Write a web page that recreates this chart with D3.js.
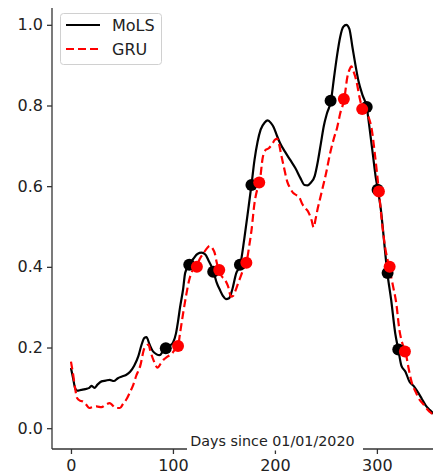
<!DOCTYPE html>
<html><head><meta charset="utf-8">
<script src="https://cdn.jsdelivr.net/npm/d3@7"></script>
<style>html,body{margin:0;padding:0;background:#fff;}svg{display:block;font-family:"DejaVu Sans",sans-serif;}</style>
</head><body>
<svg id="chart" width="433" height="474"></svg>
<script>
// ---- data ----
const molsDays = [0,2,4,6,10,14,18,20,23,26,30,34,38,42,46,50,54,58,62,66,69,72,74,77,80,84,87,90,93,97,100,103,105,107,110,112,116,120,124,128,132,135,138,140,143,146,149,152,155,158,162,166,170,174,177,180,183,186,190,193,196,199,202,205,210,215,220,225,229,232,235,239,242,245,248,251,255,258,261,264,267,270,273,276,279,282,286,290,293,296,299,301,304,307,310,314,318,321,324,328,332,336,340,344,348,352,356];
const molsValues = [0.149,0.125,0.100,0.093,0.095,0.097,0.100,0.105,0.100,0.108,0.116,0.118,0.120,0.117,0.124,0.128,0.132,0.140,0.155,0.178,0.205,0.224,0.226,0.208,0.192,0.183,0.181,0.190,0.198,0.205,0.212,0.235,0.265,0.300,0.345,0.385,0.405,0.420,0.432,0.435,0.430,0.415,0.400,0.386,0.360,0.343,0.328,0.320,0.322,0.342,0.384,0.405,0.470,0.545,0.603,0.665,0.710,0.740,0.758,0.763,0.757,0.745,0.725,0.707,0.685,0.665,0.645,0.620,0.603,0.602,0.608,0.625,0.660,0.705,0.750,0.780,0.812,0.870,0.925,0.970,0.995,1.000,0.990,0.945,0.900,0.860,0.825,0.796,0.740,0.680,0.620,0.591,0.540,0.465,0.390,0.318,0.235,0.195,0.155,0.140,0.115,0.105,0.090,0.073,0.056,0.045,0.035];

const gruDays = [0,2,4,6,9,12,15,18,21,25,30,34,38,41,44,48,51,55,58,61,64,68,72,76,78,81,85,88,91,95,99,102,105,107,110,113,116,119,123,126,130,134,136,139,141,143,145,148,151,154,157,159,161,164,167,170,172,175,177,180,183,185,188,191,194,197,200,202,204,206,209,212,215,218,221,224,227,230,233,236,238,240,242,244,247,250,254,258,261,264,268,271,273,275,277,280,283,286,289,292,295,298,302,305,308,312,316,319,322,325,328,331,334,338,342,346,350,354,357];
const gruValues = [0.165,0.135,0.100,0.075,0.068,0.066,0.058,0.050,0.052,0.054,0.052,0.058,0.062,0.056,0.050,0.050,0.060,0.074,0.090,0.107,0.130,0.155,0.198,0.207,0.190,0.168,0.150,0.160,0.170,0.178,0.185,0.195,0.204,0.236,0.285,0.330,0.368,0.390,0.400,0.418,0.434,0.448,0.452,0.445,0.434,0.410,0.392,0.376,0.368,0.352,0.326,0.328,0.339,0.360,0.380,0.400,0.410,0.455,0.490,0.558,0.595,0.609,0.670,0.690,0.694,0.703,0.715,0.718,0.705,0.680,0.645,0.612,0.595,0.583,0.578,0.572,0.555,0.545,0.535,0.515,0.498,0.520,0.545,0.566,0.598,0.630,0.680,0.720,0.745,0.780,0.816,0.870,0.888,0.897,0.885,0.860,0.820,0.791,0.780,0.770,0.740,0.680,0.587,0.510,0.450,0.400,0.350,0.310,0.245,0.210,0.190,0.150,0.115,0.090,0.070,0.058,0.045,0.036,0.030];

const molsMarkerDays = [93,116,139.5,165.7,177,254.6,290,300.7,310.5,321];
const molsMarkerValues = [0.198,0.405,0.388,0.405,0.603,0.812,0.796,0.591,0.385,0.195];
const gruMarkerDays = [105,123.5,145.4,172,184.6,267.6,285.6,302,312.5,327.5];
const gruMarkerValues = [0.204,0.400,0.392,0.410,0.609,0.816,0.791,0.587,0.400,0.190];

const xTicks = [0,100,200,300];
const yTicks = [0.0,0.2,0.4,0.6,0.8,1.0];
const seriesNames = ["MoLS","GRU"];
const xLabel = "Days since 01/01/2020";

// ---- drawing ----
const svg = d3.select("#chart");
const x = d3.scaleLinear().domain([-18.6, 376.6]).range([52, 455]);
const y = d3.scaleLinear().domain([-0.0516, 1.0417]).range([449, 8]);

const line = d3.line().x(d => x(d[0])).y(d => y(d[1])).curve(d3.curveMonotoneX);

svg.append("path")
  .datum(molsDays.map((d,i) => [d, molsValues[i]]))
  .attr("d", line).attr("fill","none").attr("stroke","#000").attr("stroke-width",2.2)
  .attr("stroke-linejoin","round");

svg.append("path")
  .datum(gruDays.map((d,i) => [d, gruValues[i]]))
  .attr("d", line).attr("fill","none").attr("stroke","#ff0000").attr("stroke-width",2.2)
  .attr("stroke-dasharray","8,4");

svg.append("g").selectAll("circle")
  .data(molsMarkerDays.map((d,i) => [d, molsMarkerValues[i]]))
  .join("circle").attr("cx", d => x(d[0])).attr("cy", d => y(d[1])).attr("r", 6).attr("fill","#000");

svg.append("g").selectAll("circle")
  .data(gruMarkerDays.map((d,i) => [d, gruMarkerValues[i]]))
  .join("circle").attr("cx", d => x(d[0])).attr("cy", d => y(d[1])).attr("r", 6).attr("fill","#ff0000");

// axes
const yAxis = svg.append("g").attr("transform","translate(52,0)")
  .call(d3.axisLeft(y).tickValues(yTicks).tickFormat(d3.format(".1f")).tickSize(5).tickPadding(4));
const xAxis = svg.append("g").attr("transform","translate(0,449)")
  .call(d3.axisBottom(x).tickValues(xTicks).tickFormat(d3.format("d")).tickSize(5).tickPadding(5.5));
[yAxis, xAxis].forEach(g => {
  g.select(".domain").attr("stroke","#333").attr("stroke-width",1.3);
  g.selectAll(".tick line").attr("stroke","#333").attr("stroke-width",1.3);
  g.selectAll(".tick text").attr("fill","#222").style("font-size","16px").style("font-family","DejaVu Sans");
});
yAxis.select(".domain").attr("d","M0,8V449");
xAxis.select(".domain").attr("d","M52,0H455");

// x label with white box
const lab = svg.append("g");
lab.append("rect").attr("x",187).attr("y",431).attr("width",176).attr("height",19.5).attr("fill","#fff");
lab.append("text").attr("x",272.5).attr("y",446).attr("text-anchor","middle")
  .style("font-size","14.3px").attr("fill","#222").text(xLabel);

// legend
const leg = svg.append("g");
leg.append("rect").attr("x",60.5).attr("y",13.5).attr("width",101).attr("height",51).attr("rx",3)
  .attr("fill","#fff").attr("fill-opacity",0.8).attr("stroke","#d0d0d0").attr("stroke-width",1);
const legY = [25, 49];
const legStyles = [{c:"#000",d:null},{c:"#ff0000",d:"8,4"}];
seriesNames.forEach((n,i) => {
  leg.append("line").attr("x1",66).attr("x2",100).attr("y1",legY[i]).attr("y2",legY[i])
    .attr("stroke",legStyles[i].c).attr("stroke-width",2.2).attr("stroke-dasharray",legStyles[i].d);
  leg.append("text").attr("x",112).attr("y",legY[i]).attr("dy","0.35em")
    .style("font-size","16px").attr("fill","#222").text(n);
});
</script>
</body></html>
